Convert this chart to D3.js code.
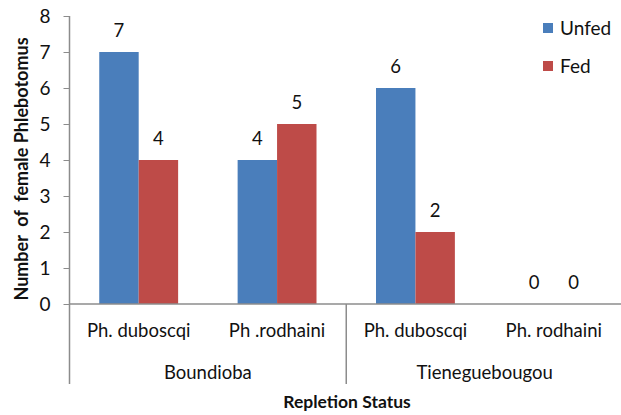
<!DOCTYPE html>
<html><head><meta charset="utf-8">
<script src="https://cdn.jsdelivr.net/npm/d3@7"></script>
<style>body{margin:0;background:#fff}svg{display:block}text{font-family:Lato,"Open Sans",sans-serif;fill:#111;white-space:pre}</style>
</head><body><svg id="c" width="621" height="415"></svg>
<script>
const categories = ["Ph. duboscqi", "Ph .rodhaini", "Ph. duboscqi", "Ph. rodhaini"];
const groups = ["Boundioba", "Tieneguebougou"];
const seriesNames = ["Unfed", "Fed"];
const unfed = [7, 4, 6, 0];
const fed = [4, 5, 2, 0];
const yTicks = [0, 1, 2, 3, 4, 5, 6, 7, 8];
const colors = ["#4a7ebb", "#be4b48"];

(function () {
const svg = d3.select("#c");
const mLeft = 69.5, mRight = 623, mTop = 16, mBottom = 304;
const x = d3.scaleBand().domain(d3.range(categories.length)).range([mLeft, mRight]).paddingInner(0.43).paddingOuter(0.215);
const xs = d3.scaleBand().domain(seriesNames).range([0, x.bandwidth()]);
const y = d3.scaleLinear().domain([0, 8]).range([mBottom, mTop]);
const series = [unfed, fed];
const axisColor = "#8c8c8c";

seriesNames.forEach((s, si) => {
  svg.append("g").selectAll("rect").data(series[si]).join("rect")
    .attr("x", (d, i) => x(i) + xs(s)).attr("width", xs.bandwidth())
    .attr("y", d => y(d)).attr("height", d => y(0) - y(d))
    .attr("fill", colors[si]);
  svg.append("g").selectAll("text").data(series[si]).join("text")
    .attr("x", (d, i) => x(i) + xs(s) + xs.bandwidth() / 2)
    .attr("y", d => y(d) - 15).attr("text-anchor", "middle")
    .attr("font-size", 18.5).text(d => d);
});

const ya = svg.append("g").attr("transform", `translate(${mLeft},0)`)
  .call(d3.axisLeft(y).tickValues(yTicks).tickSize(6).tickPadding(13).tickFormat(d3.format("d")));
ya.select(".domain").remove();
ya.selectAll("line").attr("stroke", axisColor);
ya.selectAll("text").attr("font-size", 19).style("font-family", "Lato,sans-serif").attr("fill", "#111");
svg.append("line").attr("x1", mLeft).attr("x2", mLeft).attr("y1", y(8)).attr("y2", 384).attr("stroke", axisColor).attr("stroke-width", 1.5);

svg.append("line").attr("x1", mLeft).attr("x2", mRight).attr("y1", mBottom).attr("y2", mBottom).attr("stroke", axisColor).attr("stroke-width", 1.5);
const divX = mLeft + 2 * (mRight - mLeft) / 4;
svg.append("line").attr("x1", divX).attr("x2", divX).attr("y1", mBottom).attr("y2", 384).attr("stroke", axisColor).attr("stroke-width", 1.5);
svg.append("g").selectAll("text").data(categories).join("text")
  .attr("x", (d, i) => x(i) + x.bandwidth() / 2).attr("y", 337)
  .attr("text-anchor", "middle").attr("font-size", 18.5).text(d => d);
svg.append("g").selectAll("text").data(groups).join("text")
  .attr("x", (d, i) => mLeft + (i * 2 + 1) * (mRight - mLeft) / 4).attr("y", 379)
  .attr("text-anchor", "middle").attr("font-size", 18.5).text(d => d);

svg.append("text").attr("x", 347).attr("y", 408).attr("text-anchor", "middle")
  .attr("font-size", 17.5).attr("font-weight", "bold").text("Repletion Status");
svg.append("text").attr("transform", "translate(28,169) rotate(-90)").attr("text-anchor", "middle")
  .attr("font-size", 18).attr("font-weight", "bold").text("Number  of  female Phlebotomus");

seriesNames.forEach((s, i) => {
  const ly = 28 + i * 38;
  svg.append("rect").attr("x", 543).attr("y", ly - 5).attr("width", 10).attr("height", 10).attr("fill", colors[i]);
  svg.append("text").attr("x", 560).attr("y", ly + 7).attr("font-size", 19).text(s);
});
})();
</script></body></html>
